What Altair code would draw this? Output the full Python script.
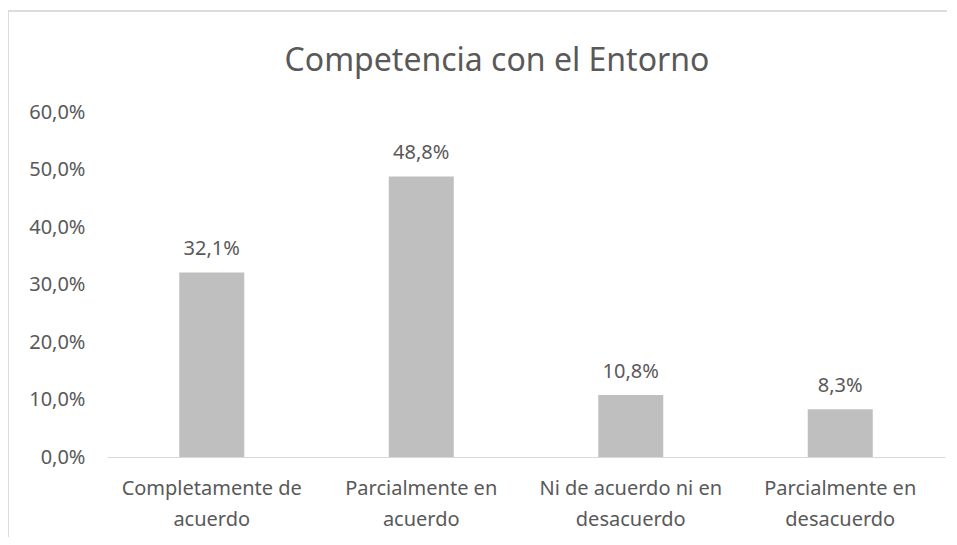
import altair as alt
import pandas as pd

categories = ["Completamente de|acuerdo", "Parcialmente en|acuerdo",
              "Ni de acuerdo ni en|desacuerdo", "Parcialmente en|desacuerdo"]
values = [0.321, 0.488, 0.108, 0.083]
y_ticks = [0.0, 0.1, 0.2, 0.3, 0.4, 0.5, 0.6]
title_text = "Competencia con el Entorno"

df = pd.DataFrame({"cat": categories, "val": values})

FONT = "Noto Sans"
TXT = "#595959"
FS = 20

base = alt.Chart(df).encode(
    x=alt.X("cat:N", sort=categories, title=None,
            scale=alt.Scale(paddingInner=0.0, paddingOuter=0.0),
            axis=alt.Axis(labelExpr="split(datum.label, '|')", labelAngle=0,
                          labelFontSize=FS, labelColor=TXT, labelFont=FONT,
                          labelLineHeight=31, labelPadding=21, labelLimit=400,
                          domainColor="#D9D9D9", domainWidth=1, ticks=False,
                          grid=False, labelBaseline="top")),
    y=alt.Y("val:Q", title=None,
            scale=alt.Scale(domain=[0, 0.6], nice=False),
            axis=alt.Axis(values=y_ticks, domain=False, ticks=False, grid=False,
                          labelExpr="replace(format(datum.value, '.1%'), '.', ',')",
                          labelFontSize=FS, labelColor=TXT, labelFont=FONT,
                          labelPadding=22)),
)

bars = base.mark_bar(color="#BFBFBF", size=65)

labels = base.transform_calculate(
    lbl="replace(format(datum.val, '.1%'), '.', ',')"
).mark_text(baseline="bottom", dy=-13, fontSize=FS, font=FONT, color=TXT).encode(
    text="lbl:N")

left_border = alt.Chart(df).mark_rule(color="#D9D9D9").encode(
    x=alt.value(-99), y=alt.value(-101), y2=alt.value(440))
top_border = alt.Chart(df).mark_rule(color="#D9D9D9").encode(
    x=alt.value(-99), x2=alt.value(840), y=alt.value(-101))

chart = alt.layer(left_border, top_border, bars, labels).properties(
    width=838, height=345,
    title=alt.TitleParams(title_text, fontSize=32, font=FONT, color=TXT,
                          fontWeight="normal", anchor="middle", offset=36,
                          dx=-29, dy=103),
    autosize=alt.AutoSizeParams(type="none"),
    padding={"left": 99, "top": 104, "right": 4, "bottom": 80},
).configure_view(stroke=None)

chart.save("out.html", embed_options={"renderer": "svg", "actions": False})
